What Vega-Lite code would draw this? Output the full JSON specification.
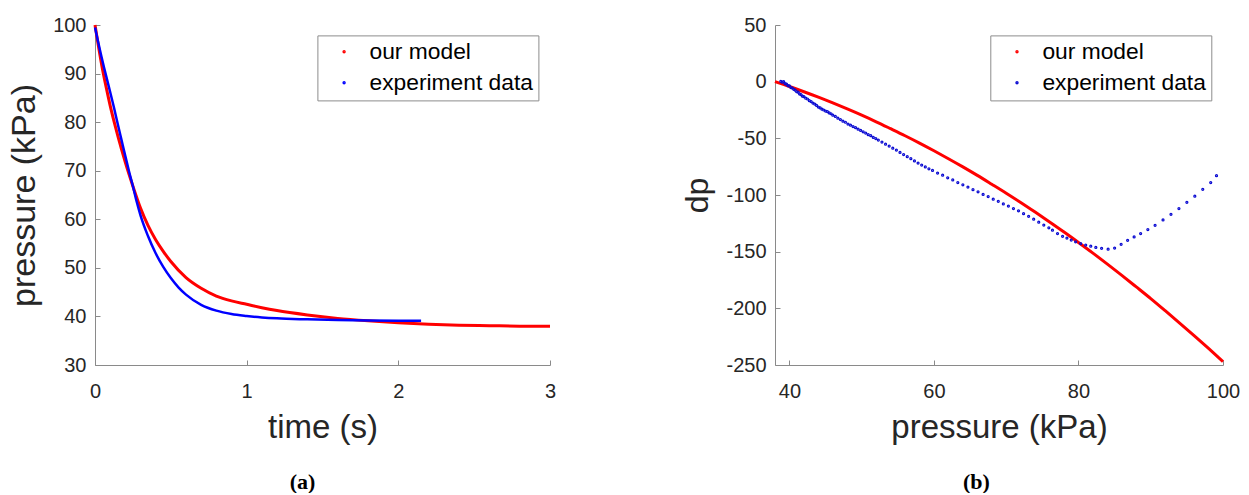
{
  "$schema": "https://vega.github.io/schema/vega-lite/v6.json",
  "background": "white",
  "padding": {"left": 7, "top": 15, "right": 5, "bottom": 0},
  "bounds": "flush",
  "spacing": 225,
  "datasets": {
    "a_model": [
      {"t": 0, "p": 100, "s": "our model"},
      {"t": 0.025, "p": 95.2, "s": "our model"},
      {"t": 0.05, "p": 90.8, "s": "our model"},
      {"t": 0.075, "p": 87.0, "s": "our model"},
      {"t": 0.1, "p": 83.4, "s": "our model"},
      {"t": 0.125, "p": 80.2, "s": "our model"},
      {"t": 0.15, "p": 77.2, "s": "our model"},
      {"t": 0.175, "p": 74.4, "s": "our model"},
      {"t": 0.2, "p": 71.7, "s": "our model"},
      {"t": 0.25, "p": 66.8, "s": "our model"},
      {"t": 0.3, "p": 62.3, "s": "our model"},
      {"t": 0.35, "p": 58.7, "s": "our model"},
      {"t": 0.4, "p": 55.8, "s": "our model"},
      {"t": 0.45, "p": 53.4, "s": "our model"},
      {"t": 0.5, "p": 51.3, "s": "our model"},
      {"t": 0.6, "p": 48.0, "s": "our model"},
      {"t": 0.7, "p": 45.8, "s": "our model"},
      {"t": 0.8, "p": 44.2, "s": "our model"},
      {"t": 0.9, "p": 43.2, "s": "our model"},
      {"t": 1.0, "p": 42.5, "s": "our model"},
      {"t": 1.1, "p": 41.8, "s": "our model"},
      {"t": 1.2, "p": 41.2, "s": "our model"},
      {"t": 1.4, "p": 40.3, "s": "our model"},
      {"t": 1.6, "p": 39.6, "s": "our model"},
      {"t": 1.8, "p": 39.1, "s": "our model"},
      {"t": 2.0, "p": 38.7, "s": "our model"},
      {"t": 2.2, "p": 38.4, "s": "our model"},
      {"t": 2.4, "p": 38.2, "s": "our model"},
      {"t": 2.6, "p": 38.1, "s": "our model"},
      {"t": 2.8, "p": 38.0, "s": "our model"},
      {"t": 3.0, "p": 38.0, "s": "our model"}
    ],
    "a_exp": [
      {"t": 0, "p": 99.5, "s": "experiment data"},
      {"t": 0.02, "p": 96.6, "s": "experiment data"},
      {"t": 0.04, "p": 93.8, "s": "experiment data"},
      {"t": 0.06, "p": 91.2, "s": "experiment data"},
      {"t": 0.08, "p": 88.7, "s": "experiment data"},
      {"t": 0.1, "p": 86.2, "s": "experiment data"},
      {"t": 0.125, "p": 83.0, "s": "experiment data"},
      {"t": 0.15, "p": 79.6, "s": "experiment data"},
      {"t": 0.175, "p": 76.3, "s": "experiment data"},
      {"t": 0.2, "p": 73.0, "s": "experiment data"},
      {"t": 0.225, "p": 69.8, "s": "experiment data"},
      {"t": 0.25, "p": 66.8, "s": "experiment data"},
      {"t": 0.275, "p": 63.6, "s": "experiment data"},
      {"t": 0.3, "p": 60.8, "s": "experiment data"},
      {"t": 0.35, "p": 56.5, "s": "experiment data"},
      {"t": 0.4, "p": 53.0, "s": "experiment data"},
      {"t": 0.45, "p": 50.2, "s": "experiment data"},
      {"t": 0.5, "p": 47.9, "s": "experiment data"},
      {"t": 0.55, "p": 46.0, "s": "experiment data"},
      {"t": 0.6, "p": 44.5, "s": "experiment data"},
      {"t": 0.7, "p": 42.4, "s": "experiment data"},
      {"t": 0.8, "p": 41.2, "s": "experiment data"},
      {"t": 0.9, "p": 40.5, "s": "experiment data"},
      {"t": 1.0, "p": 40.1, "s": "experiment data"},
      {"t": 1.1, "p": 39.8, "s": "experiment data"},
      {"t": 1.2, "p": 39.6, "s": "experiment data"},
      {"t": 1.4, "p": 39.4, "s": "experiment data"},
      {"t": 1.6, "p": 39.25, "s": "experiment data"},
      {"t": 1.8, "p": 39.15, "s": "experiment data"},
      {"t": 2.0, "p": 39.1, "s": "experiment data"},
      {"t": 2.15, "p": 39.1, "s": "experiment data"}
    ],
    "b_model": [
      {"p": 38, "d": 0, "s": "our model"},
      {"p": 40, "d": -4.3, "s": "our model"},
      {"p": 42, "d": -8.9, "s": "our model"},
      {"p": 44, "d": -13.7, "s": "our model"},
      {"p": 46, "d": -18.8, "s": "our model"},
      {"p": 48, "d": -24.1, "s": "our model"},
      {"p": 50, "d": -29.6, "s": "our model"},
      {"p": 52, "d": -35.4, "s": "our model"},
      {"p": 54, "d": -41.5, "s": "our model"},
      {"p": 56, "d": -47.7, "s": "our model"},
      {"p": 58, "d": -54.2, "s": "our model"},
      {"p": 60, "d": -61.0, "s": "our model"},
      {"p": 62, "d": -68.0, "s": "our model"},
      {"p": 64, "d": -75.2, "s": "our model"},
      {"p": 66, "d": -82.7, "s": "our model"},
      {"p": 68, "d": -90.5, "s": "our model"},
      {"p": 70, "d": -98.4, "s": "our model"},
      {"p": 72, "d": -106.6, "s": "our model"},
      {"p": 74, "d": -115.1, "s": "our model"},
      {"p": 76, "d": -123.8, "s": "our model"},
      {"p": 78, "d": -132.7, "s": "our model"},
      {"p": 80, "d": -141.9, "s": "our model"},
      {"p": 82, "d": -151.3, "s": "our model"},
      {"p": 84, "d": -161.0, "s": "our model"},
      {"p": 86, "d": -170.9, "s": "our model"},
      {"p": 88, "d": -181.1, "s": "our model"},
      {"p": 90, "d": -191.4, "s": "our model"},
      {"p": 92, "d": -202.1, "s": "our model"},
      {"p": 94, "d": -213.0, "s": "our model"},
      {"p": 96, "d": -224.1, "s": "our model"},
      {"p": 98, "d": -235.4, "s": "our model"},
      {"p": 100, "d": -247.0, "s": "our model"}
    ],
    "b_exp": [
      {"p": 38.8, "d": 0.3, "s": "experiment data"},
      {"p": 39.0, "d": -0.5, "s": "experiment data"},
      {"p": 39.2, "d": 0.0, "s": "experiment data"},
      {"p": 39.4, "d": -1.8, "s": "experiment data"},
      {"p": 39.6, "d": -2.2, "s": "experiment data"},
      {"p": 39.8, "d": -3.5, "s": "experiment data"},
      {"p": 40.0, "d": -3.8, "s": "experiment data"},
      {"p": 40.2, "d": -5.2, "s": "experiment data"},
      {"p": 40.4, "d": -5.6, "s": "experiment data"},
      {"p": 40.6, "d": -6.8, "s": "experiment data"},
      {"p": 40.8, "d": -7.5, "s": "experiment data"},
      {"p": 41.0, "d": -8.9, "s": "experiment data"},
      {"p": 41.2, "d": -9.3, "s": "experiment data"},
      {"p": 41.4, "d": -10.8, "s": "experiment data"},
      {"p": 41.6, "d": -11.5, "s": "experiment data"},
      {"p": 41.8, "d": -12.8, "s": "experiment data"},
      {"p": 42.0, "d": -13.2, "s": "experiment data"},
      {"p": 42.25, "d": -14.6, "s": "experiment data"},
      {"p": 42.5, "d": -15.3, "s": "experiment data"},
      {"p": 42.75, "d": -16.8, "s": "experiment data"},
      {"p": 43.0, "d": -17.6, "s": "experiment data"},
      {"p": 43.25, "d": -18.9, "s": "experiment data"},
      {"p": 43.5, "d": -19.8, "s": "experiment data"},
      {"p": 43.75, "d": -21.0, "s": "experiment data"},
      {"p": 44.0, "d": -22.4, "s": "experiment data"},
      {"p": 44.25, "d": -23.2, "s": "experiment data"},
      {"p": 44.5, "d": -24.3, "s": "experiment data"},
      {"p": 44.75, "d": -25.0, "s": "experiment data"},
      {"p": 45.0, "d": -25.9, "s": "experiment data"},
      {"p": 45.25, "d": -26.4, "s": "experiment data"},
      {"p": 45.5, "d": -27.6, "s": "experiment data"},
      {"p": 45.75, "d": -28.3, "s": "experiment data"},
      {"p": 46.0, "d": -29.6, "s": "experiment data"},
      {"p": 46.35, "d": -30.7, "s": "experiment data"},
      {"p": 46.7, "d": -32.2, "s": "experiment data"},
      {"p": 47.05, "d": -33.4, "s": "experiment data"},
      {"p": 47.4, "d": -34.9, "s": "experiment data"},
      {"p": 47.75, "d": -35.8, "s": "experiment data"},
      {"p": 48.1, "d": -37.4, "s": "experiment data"},
      {"p": 48.45, "d": -38.4, "s": "experiment data"},
      {"p": 48.8, "d": -39.6, "s": "experiment data"},
      {"p": 49.15, "d": -40.6, "s": "experiment data"},
      {"p": 49.5, "d": -41.9, "s": "experiment data"},
      {"p": 49.85, "d": -43.0, "s": "experiment data"},
      {"p": 50.2, "d": -44.3, "s": "experiment data"},
      {"p": 50.55, "d": -45.4, "s": "experiment data"},
      {"p": 50.9, "d": -46.8, "s": "experiment data"},
      {"p": 51.25, "d": -47.7, "s": "experiment data"},
      {"p": 51.6, "d": -49.2, "s": "experiment data"},
      {"p": 51.95, "d": -50.2, "s": "experiment data"},
      {"p": 52.3, "d": -51.5, "s": "experiment data"},
      {"p": 52.8, "d": -53.3, "s": "experiment data"},
      {"p": 53.3, "d": -55.2, "s": "experiment data"},
      {"p": 53.8, "d": -56.8, "s": "experiment data"},
      {"p": 54.3, "d": -58.7, "s": "experiment data"},
      {"p": 54.8, "d": -60.4, "s": "experiment data"},
      {"p": 55.3, "d": -62.4, "s": "experiment data"},
      {"p": 55.8, "d": -64.3, "s": "experiment data"},
      {"p": 56.3, "d": -66.2, "s": "experiment data"},
      {"p": 56.8, "d": -68.0, "s": "experiment data"},
      {"p": 57.3, "d": -69.9, "s": "experiment data"},
      {"p": 57.8, "d": -71.8, "s": "experiment data"},
      {"p": 58.3, "d": -73.6, "s": "experiment data"},
      {"p": 58.8, "d": -75.2, "s": "experiment data"},
      {"p": 59.3, "d": -76.9, "s": "experiment data"},
      {"p": 59.8, "d": -78.3, "s": "experiment data"},
      {"p": 60.5, "d": -80.6, "s": "experiment data"},
      {"p": 61.2, "d": -82.5, "s": "experiment data"},
      {"p": 61.9, "d": -84.8, "s": "experiment data"},
      {"p": 62.6, "d": -86.7, "s": "experiment data"},
      {"p": 63.3, "d": -89.0, "s": "experiment data"},
      {"p": 64.0, "d": -91.0, "s": "experiment data"},
      {"p": 64.7, "d": -93.0, "s": "experiment data"},
      {"p": 65.4, "d": -95.3, "s": "experiment data"},
      {"p": 66.1, "d": -97.2, "s": "experiment data"},
      {"p": 66.8, "d": -99.5, "s": "experiment data"},
      {"p": 67.5, "d": -101.4, "s": "experiment data"},
      {"p": 68.2, "d": -103.7, "s": "experiment data"},
      {"p": 68.9, "d": -105.6, "s": "experiment data"},
      {"p": 69.6, "d": -107.9, "s": "experiment data"},
      {"p": 70.3, "d": -109.8, "s": "experiment data"},
      {"p": 71.0, "d": -112.0, "s": "experiment data"},
      {"p": 71.7, "d": -114.0, "s": "experiment data"},
      {"p": 72.4, "d": -116.5, "s": "experiment data"},
      {"p": 73.1, "d": -118.8, "s": "experiment data"},
      {"p": 73.8, "d": -121.3, "s": "experiment data"},
      {"p": 74.5, "d": -124.0, "s": "experiment data"},
      {"p": 75.2, "d": -126.5, "s": "experiment data"},
      {"p": 75.9, "d": -129.0, "s": "experiment data"},
      {"p": 76.4, "d": -131.0, "s": "experiment data"},
      {"p": 77.1, "d": -134.0, "s": "experiment data"},
      {"p": 77.8, "d": -136.5, "s": "experiment data"},
      {"p": 78.4, "d": -138.0, "s": "experiment data"},
      {"p": 79.0, "d": -139.8, "s": "experiment data"},
      {"p": 79.6, "d": -141.3, "s": "experiment data"},
      {"p": 80.3, "d": -142.9, "s": "experiment data"},
      {"p": 81.0, "d": -144.2, "s": "experiment data"},
      {"p": 81.7, "d": -145.2, "s": "experiment data"},
      {"p": 82.4, "d": -146.3, "s": "experiment data"},
      {"p": 83.2, "d": -147.0, "s": "experiment data"},
      {"p": 84.1, "d": -147.8, "s": "experiment data"},
      {"p": 85.0, "d": -146.8, "s": "experiment data"},
      {"p": 85.9, "d": -143.5, "s": "experiment data"},
      {"p": 86.8, "d": -140.0, "s": "experiment data"},
      {"p": 87.7, "d": -137.0, "s": "experiment data"},
      {"p": 88.6, "d": -134.0, "s": "experiment data"},
      {"p": 89.6, "d": -130.5, "s": "experiment data"},
      {"p": 90.6, "d": -126.8, "s": "experiment data"},
      {"p": 91.7, "d": -122.0, "s": "experiment data"},
      {"p": 92.8, "d": -117.0, "s": "experiment data"},
      {"p": 93.9, "d": -112.0, "s": "experiment data"},
      {"p": 95.0, "d": -106.5, "s": "experiment data"},
      {"p": 96.1, "d": -101.0, "s": "experiment data"},
      {"p": 97.2, "d": -95.0, "s": "experiment data"},
      {"p": 98.3, "d": -89.0, "s": "experiment data"},
      {"p": 99.1, "d": -83.0, "s": "experiment data"}
    ]
  },
  "hconcat": [
    {
      "width": 455,
      "height": 340,
      "title": {"text": "(a)", "orient": "bottom", "anchor": "middle", "offset": 28, "dx": -20, "font": "Liberation Serif", "fontSize": 22, "fontWeight": "bold", "color": "#000000"},
      "layer": [
        {
          "data": {"name": "a_model"},
          "mark": {"type": "line", "strokeWidth": 3, "interpolate": "monotone"},
          "encoding": {
            "x": {"field": "t", "type": "quantitative", "scale": {"domain": [0, 3], "nice": false, "zero": false},
              "axis": {"title": "time (s)", "values": [0, 1, 2, 3], "labelExpr": "'' + datum.value", "labelPadding": 21, "titleY": 72, "titleBaseline": "alphabetic", "titleFontSize": 33}},
            "y": {"field": "p", "type": "quantitative", "scale": {"domain": [30, 100], "nice": false, "zero": false},
              "axis": {"title": "pressure (kPa)", "values": [30, 40, 50, 60, 70, 80, 90, 100], "labelExpr": "'' + datum.value", "labelPadding": 14, "titleX": -71, "titleY": 170, "titleAngle": -90, "titleBaseline": "middle", "titleAlign": "center", "titleFontSize": 34}},
            "color": {"field": "s", "type": "nominal", "scale": {"domain": ["our model", "experiment data"], "range": ["#ff0000", "#0000ff"]},
              "legend": {"orient": "none", "legendX": 222.4, "legendY": 10.4, "direction": "vertical", "title": null}}
          }
        },
        {
          "data": {"name": "a_exp"},
          "mark": {"type": "line", "strokeWidth": 2.5, "interpolate": "monotone"},
          "encoding": {
            "x": {"field": "t", "type": "quantitative"},
            "y": {"field": "p", "type": "quantitative"},
            "color": {"field": "s", "type": "nominal"}
          }
        }
      ]
    },
    {
      "width": 448,
      "height": 340,
      "title": {"text": "(b)", "orient": "bottom", "anchor": "middle", "offset": 28, "dx": -22.6, "font": "Liberation Serif", "fontSize": 22, "fontWeight": "bold", "color": "#000000"},
      "layer": [
        {
          "data": {"name": "b_model"},
          "mark": {"type": "line", "strokeWidth": 3, "interpolate": "monotone"},
          "encoding": {
            "x": {"field": "p", "type": "quantitative", "scale": {"domain": [38, 100], "nice": false, "zero": false},
              "axis": {"title": "pressure (kPa)", "values": [40, 60, 80, 100], "labelExpr": "'' + datum.value", "labelPadding": 21, "titleY": 72, "titleBaseline": "alphabetic", "titleFontSize": 33}},
            "y": {"field": "d", "type": "quantitative", "scale": {"domain": [-250, 50], "nice": false, "zero": false},
              "axis": {"title": "dp", "values": [-250, -200, -150, -100, -50, 0, 50], "labelExpr": "'' + datum.value", "labelPadding": 14, "titleX": -78, "titleY": 170, "titleAngle": -90, "titleBaseline": "middle", "titleAlign": "center", "titleFontSize": 32}},
            "color": {"field": "s", "type": "nominal", "scale": {"domain": ["our model", "experiment data"], "range": ["#ff0000", "#0a0ad2"]},
              "legend": {"orient": "none", "legendX": 215.3, "legendY": 10.4, "direction": "vertical", "title": null}}
          }
        },
        {
          "data": {"name": "b_exp"},
          "mark": {"type": "point", "filled": false, "size": 1.5, "strokeWidth": 2, "opacity": 1},
          "encoding": {
            "x": {"field": "p", "type": "quantitative"},
            "y": {"field": "d", "type": "quantitative"},
            "color": {"field": "s", "type": "nominal"}
          }
        }
      ]
    }
  ],
  "resolve": {"scale": {"color": "independent"}, "legend": {"color": "independent"}},
  "config": {
    "view": {"stroke": null},
    "axis": {
      "grid": false,
      "domainColor": "#8a8a8a",
      "domainWidth": 1,
      "tickColor": "#8a8a8a",
      "tickSize": -5,
      "tickWidth": 1,
      "labelFont": "Liberation Sans",
      "labelFontSize": 20,
      "labelColor": "#262626",
      "labelFlush": false,
      "labelOverlap": false,
      "titleFont": "Liberation Sans",
      "titleFontWeight": "normal",
      "titleColor": "#262626"
    },
    "legend": {
      "labelFont": "Liberation Sans",
      "labelFontSize": 22.8,
      "labelColor": "#000000",
      "labelLimit": 400,
      "symbolType": "circle",
      "symbolSize": 2,
      "symbolStrokeWidth": 2,
      "padding": 5,
      "rowPadding": 7,
      "symbolOffset": 10.3,
      "labelOffset": 14,
      "strokeColor": "#8c8c8c",
      "strokeWidth": 1,
      "fillColor": "#ffffff",
      "cornerRadius": 0
    }
  }
}
